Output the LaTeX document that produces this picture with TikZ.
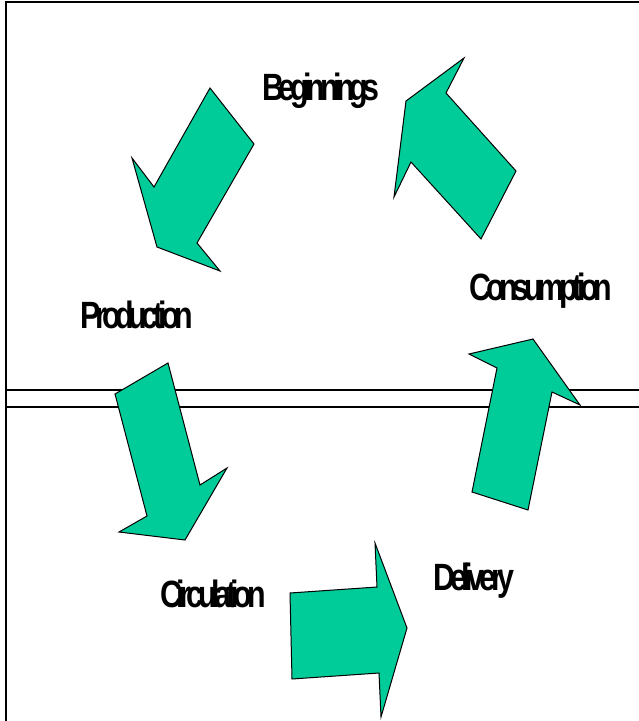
\documentclass[tikz,border=0pt]{standalone}
\usepackage{fontspec}
\newfontfamily\lblfont[FakeStretch=0.8,LetterSpace=-14]{Liberation Sans Bold}
\definecolor{cyclegreen}{RGB}{0,204,153}
\begin{document}
\begin{tikzpicture}[x=1pt,y=-1pt,
  frameline/.style={line width=2pt,black},
  blockarrow/.style={fill=cyclegreen,draw=black,line width=1pt,line join=miter},
  stagelabel/.style={font=\lblfont\fontsize{38}{40}\selectfont,inner sep=0pt,anchor=base}]
\useasboundingbox (0,0) rectangle (639,721);
% frame and the double rule across the middle
\draw[frameline] (6,721) -- (6,1.5) -- (639,1.5);
\draw[frameline] (6,390) -- (639,390);
\draw[frameline] (6,407) -- (639,407);
% block arrows of the cycle
\draw[blockarrow] (210,88) -- (254,144) -- (197,243) -- (220,271) -- (157,247) -- (132,158) -- (154,187) -- cycle;
\draw[blockarrow] (168,363) -- (115,394) -- (147,516) -- (119,532) -- (185,540) -- (227,468) -- (200,485) -- cycle;
\draw[blockarrow] (290,593) -- (377,587) -- (375,543) -- (407,628) -- (381,717) -- (379,673) -- (292,679) -- cycle;
\draw[blockarrow] (533,339) -- (580,405) -- (552,392) -- (528,510) -- (472,492) -- (497,368) -- (469,354) -- cycle;
\draw[blockarrow] (464,58) -- (446,93) -- (516,171) -- (481,239) -- (411,162) -- (394,197) -- (406,101) -- cycle;
% stage labels
\node[stagelabel] (beg) at (321,100) {Beginnings};
\node[stagelabel] (prod) at (137,328) {Production};
\node[stagelabel] (circ) at (213,607) {Circulation};
\node[stagelabel] (deliv) at (474,590) {Delivery};
\node[stagelabel] (cons) at (541,300) {Consumption};
\end{tikzpicture}
\end{document}
